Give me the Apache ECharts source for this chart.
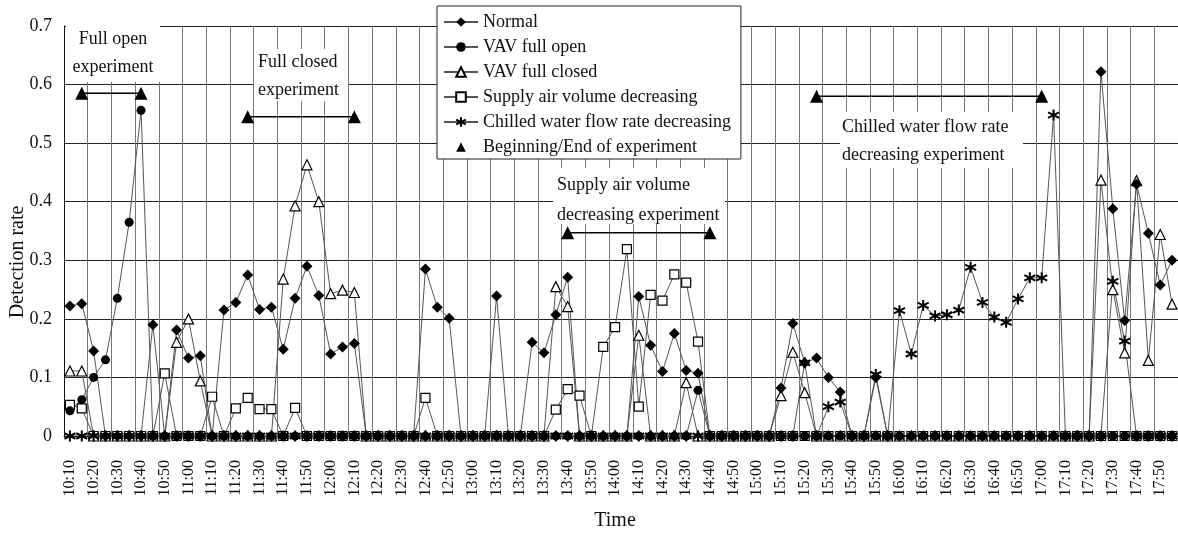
<!DOCTYPE html>
<html><head><meta charset="utf-8">
<script src="https://cdn.jsdelivr.net/npm/echarts@6/dist/echarts.min.js"></script>
<style>html,body{margin:0;padding:0;background:#fff}#c{width:1178px;height:539px}</style>
</head><body><div id="c"></div>
<script>
// ---- categories (5-minute steps) ----
const times = [
 '10:10','10:15','10:20','10:25','10:30','10:35','10:40','10:45','10:50','10:55',
 '11:00','11:05','11:10','11:15','11:20','11:25','11:30','11:35','11:40','11:45',
 '11:50','11:55','12:00','12:05','12:10','12:15','12:20','12:25','12:30','12:35',
 '12:40','12:45','12:50','12:55','13:00','13:05','13:10','13:15','13:20','13:25',
 '13:30','13:35','13:40','13:45','13:50','13:55','14:00','14:05','14:10','14:15',
 '14:20','14:25','14:30','14:35','14:40','14:45','14:50','14:55','15:00','15:05',
 '15:10','15:15','15:20','15:25','15:30','15:35','15:40','15:45','15:50','15:55',
 '16:00','16:05','16:10','16:15','16:20','16:25','16:30','16:35','16:40','16:45',
 '16:50','16:55','17:00','17:05','17:10','17:15','17:20','17:25','17:30','17:35',
 '17:40','17:45','17:50','17:55'
];
// ---- series values ----
const normal = [
 .222,.226,.145,0,0,0,0,.19,0,.181,
 .133,.137,0,.215,.228,.275,.216,.22,.148,.235,
 .29,.24,.14,.152,.158,0,0,0,0,0,
 .285,.22,.201,0,0,0,.239,0,0,.16,
 .142,.207,.271,0,0,0,0,0,.238,.155,
 .11,.175,.112,.107,0,0,0,0,0,0,
 .082,.192,.125,.133,.1,.075,0,0,.1,0,
 0,0,0,0,0,0,0,0,0,0,
 0,0,0,0,0,0,0,.622,.388,.197,
 .43,.346,.258,.3
];
const vavOpen = [
 .043,.062,.1,.13,.235,.365,.556,0,0,0,
 0,0,0,0,0,0,0,0,0,0,
 0,0,0,0,0,0,0,0,0,0,
 0,0,0,0,0,0,0,0,0,0,
 0,0,0,0,0,0,0,0,0,0,
 0,0,0,.078,0,0,0,0,0,0,
 0,0,0,0,0,0,0,0,0,0,
 0,0,0,0,0,0,0,0,0,0,
 0,0,0,0,0,0,0,0,0,0,
 0,0,0,0
];
const vavClosed = [
 .111,.111,0,0,0,0,0,0,0,.16,
 .2,.094,0,0,0,0,0,0,.268,.393,
 .463,.4,.243,.249,.245,0,0,0,0,0,
 0,0,0,0,0,0,0,0,0,0,
 0,.255,.221,0,0,0,0,0,.172,0,
 0,0,.091,0,0,0,0,0,0,0,
 .069,.143,.074,0,0,0,0,0,0,0,
 0,0,0,0,0,0,0,0,0,0,
 0,0,0,0,0,0,0,.437,.25,.142,
 .436,.129,.344,.225
];
const supplyAir = [
 .053,.047,0,0,0,0,0,0,.107,0,
 0,0,.067,0,.047,.065,.046,.046,0,.048,
 0,0,0,0,0,0,0,0,0,0,
 .065,0,0,0,0,0,0,0,0,0,
 0,.045,.08,.069,0,.152,.186,.319,.05,.241,
 .231,.276,.262,.161,0,0,0,0,0,0,
 0,0,0,0,0,0,0,0,0,0,
 0,0,0,0,0,0,0,0,0,0,
 0,0,0,0,0,0,0,0,0,0,
 0,0,0,0
];
const chilled = [
 0,0,0,0,0,0,0,0,0,0,
 0,0,0,0,0,0,0,0,0,0,
 0,0,0,0,0,0,0,0,0,0,
 0,0,0,0,0,0,0,0,0,0,
 0,0,0,0,0,0,0,0,0,0,
 0,0,0,0,0,0,0,0,0,0,
 0,0,.125,0,.05,.058,0,0,.105,0,
 .214,.14,.223,.205,.207,.215,.288,.228,.203,.194,
 .234,.27,.27,.548,0,0,0,0,.264,.162,
 0,0,0,0
];
// ---- experiment begin/end markers ----
const expStart = ['10:15','11:25','13:40','15:25'];
const expEnd   = ['10:40','12:10','14:40','17:00'];
const expLevel = [0.585, 0.545, 0.347, 0.58];
const expName = 'Beginning/End of experiment';
// ---- annotation texts ----
const notes = ['Full open\nexperiment','Full closed\nexperiment',
  'Supply air volume\ndecreasing experiment','Chilled water flow rate\ndecreasing experiment'];
const yTicks = [0,0.1,0.2,0.3,0.4,0.5,0.6,0.7];

const serif = '"Liberation Serif","Times New Roman",serif';
const lineCol = '#555';
const starPath = 'path://M5,0L5,10M0.7,2.5L9.3,7.5M0.7,7.5L9.3,2.5';

function ser(name, data, symbol, size, fill, bw){
  return {
    name, type:'line', data, symbol, symbolSize:size, showAllSymbol:true,
    animation:false,
    lineStyle:{color:lineCol, width:1},
    itemStyle:{color:fill, borderColor:'#000', borderWidth:bw},
    emphasis:{disabled:true}
  };
}
// drawing order: hollow marks first, filled marks on top
const series = [
  ser('Supply air volume decreasing', supplyAir, 'rect', 9, '#fff', 1.2),
  ser('VAV full closed', vavClosed, 'triangle', 10, '#fff', 1.2),
  ser('Normal', normal, 'diamond', 11, '#000', 0),
  ser('VAV full open', vavOpen, 'circle', 9, '#000', 0),
  ser('Chilled water flow rate decreasing', chilled, starPath, 11, '#000', 2)
];
expStart.forEach((s,k)=>{
  series.push({
    name: expName, type:'line', animation:false, showAllSymbol:true,
    data:[[s, expLevel[k]],[expEnd[k], expLevel[k]]],
    symbol:'triangle', symbolSize:13,
    lineStyle:{color:'#000', width:1.5},
    itemStyle:{color:'#000'}, emphasis:{disabled:true}, z:3
  });
});

const chart = echarts.init(document.getElementById('c'));
const rects = [[66,22,94,60],[254,49,94,52],[553,168,172,56],[840,112,183,56]];
const textPos = [[113,53,'center',28],[258,76,'left',28],[557,200,'left',30],[842,141,'left',28]];
const graphic = [];
rects.forEach(r=>graphic.push({type:'rect', z:1, shape:{x:r[0],y:r[1],width:r[2],height:r[3]}, style:{fill:'#fff'}}));
notes.forEach((t,k)=>graphic.push({type:'text', z:1, x:textPos[k][0], y:textPos[k][1],
  style:{text:t, fill:'#111', fontSize:18, fontFamily:serif, align:textPos[k][2], verticalAlign:'middle', lineHeight:textPos[k][3]}}));
graphic.push({type:'text', z:1, x:18, y:262, rotation:Math.PI/2,
  style:{text:'Detection rate', fill:'#111', fontSize:20, fontFamily:serif, align:'center', verticalAlign:'middle'}});
graphic.push({type:'text', z:1, x:615, y:521,
  style:{text:'Time', fill:'#111', fontSize:20, fontFamily:serif, align:'center', verticalAlign:'middle'}});

chart.setOption({
  animation:false,
  backgroundColor:'#fff',
  grid:{left:64, right:0, top:26, bottom:103, containLabel:false},
  legend:{
    left:437, top:6, orient:'vertical', itemGap:7, itemWidth:34, itemHeight:12,
    padding:[7,10,3,6], backgroundColor:'#fff', borderColor:'#222', borderWidth:1,
    textStyle:{fontFamily:serif, fontSize:18, color:'#111'},
    data:['Normal','VAV full open','VAV full closed','Supply air volume decreasing',
      'Chilled water flow rate decreasing', {name:expName, lineStyle:{opacity:0}}],
    selectedMode:false
  },
  xAxis:{
    type:'category', data:times, boundaryGap:true,
    axisLine:{show:true, lineStyle:{color:'#111', width:1}},
    axisTick:{show:false},
    axisLabel:{interval:1, rotate:90, fontFamily:serif, fontSize:16, color:'#111', margin:24},
    splitLine:{show:true, interval:1, lineStyle:{color:'#777', width:1}}
  },
  yAxis:{
    type:'value', min:0, max:0.7, interval:0.1,
    axisLine:{show:true, lineStyle:{color:'#111', width:1}},
    axisTick:{show:false},
    axisLabel:{fontFamily:serif, fontSize:18, color:'#111', margin:12,
      formatter:v=>{const t=yTicks.find(x=>Math.abs(x-v)<1e-6); return t===0?'0':(t!==undefined?t.toFixed(1):'');}},
    splitLine:{show:true, lineStyle:{color:'#222', width:1}}
  },
  graphic,
  series
});
</script></body></html>
